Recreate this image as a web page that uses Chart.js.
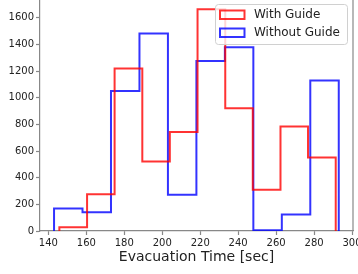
<!DOCTYPE html>
<html>
<head>
<meta charset="utf-8">
<script src="https://cdn.jsdelivr.net/npm/chart.js@4.4.0/dist/chart.umd.min.js"></script>
<style>
  html, body { margin: 0; padding: 0; background: #fff; overflow: hidden; }
  #wrap { position: relative; width: 358px; height: 274px; overflow: hidden; }
  #chart { position: absolute; left: 0; top: -16px; }
</style>
</head>
<body>
<div id="wrap"><canvas id="chart" width="372" height="290"></canvas></div>
<script>
// bin edges + counts
const withGuideEdges = [145.8, 160.4, 174.9, 189.5, 204.0, 218.6, 233.2, 247.7, 262.3, 276.8, 291.4];
const withGuideCounts = [28, 276, 1220, 521, 744, 1665, 922, 310, 784, 551];

const withoutGuideEdges = [143, 158, 173, 188, 203, 218, 233, 248, 263, 278, 293];
const withoutGuideCounts = [168, 140, 1050, 1483, 272, 1276, 1380, 6, 124, 1130];

const xTicks = [140, 160, 180, 200, 220, 240, 260, 280, 300];
const yTicks = [0, 200, 400, 600, 800, 1000, 1200, 1400, 1600];

const seriesLabels = ['With Guide', 'Without Guide'];
const seriesColors = ['rgba(255, 0, 0, 0.8)', 'rgba(0, 0, 255, 0.8)'];

// histogram outline: start at 0, one point per bin, back down to 0
function stepPoints(edges, counts) {
  const pts = [{ x: edges[0], y: 0 }];
  counts.forEach((c, i) => pts.push({ x: edges[i], y: c }));
  pts.push({ x: edges[edges.length - 1], y: 0 });
  return pts;
}

const FONT = "'DejaVu Sans', sans-serif";
const SPINE = '#888';

// matplotlib-like legend box inside the axes + right spine
const extras = {
  id: 'extras',
  beforeDatasetsDraw(chart) {
    const ctx = chart.ctx, a = chart.chartArea;
    ctx.save();
    ctx.strokeStyle = SPINE;
    ctx.lineWidth = 1.2;
    ctx.beginPath();
    ctx.moveTo(a.right, a.top);
    ctx.lineTo(a.right, a.bottom);
    ctx.stroke();
    ctx.restore();
  },
  afterDatasetsDraw(chart) {
    const ctx = chart.ctx, a = chart.chartArea;
    const bx = a.right - 138, by = a.top + 4, bw = 132, bh = 40;
    ctx.save();
    ctx.beginPath();
    ctx.roundRect(bx + 0.5, by + 0.5, bw, bh, 3);
    ctx.fillStyle = 'rgba(255, 255, 255, 0.8)';
    ctx.fill();
    ctx.strokeStyle = '#d0d0d0';
    ctx.lineWidth = 1;
    ctx.stroke();

    chart.data.datasets.forEach((ds, i) => {
      const cy = by + 10.5 + i * 18;
      ctx.strokeStyle = ds.borderColor;
      ctx.lineWidth = 2;
      ctx.strokeRect(bx + 5, cy - 4, 24.5, 8.5);
      ctx.fillStyle = '#222';
      ctx.font = '12px ' + FONT;
      ctx.textBaseline = 'middle';
      ctx.textAlign = 'left';
      ctx.fillText(ds.label, bx + 39, cy + 0.5);
    });
    ctx.restore();
  }
};

new Chart(document.getElementById('chart'), {
  type: 'line',
  data: {
    datasets: [
      {
        label: seriesLabels[0],
        data: stepPoints(withGuideEdges, withGuideCounts),
        borderColor: seriesColors[0],
        borderWidth: 2,
        stepped: 'before',
        pointRadius: 0,
        fill: false
      },
      {
        label: seriesLabels[1],
        data: stepPoints(withoutGuideEdges, withoutGuideCounts),
        borderColor: seriesColors[1],
        borderWidth: 2,
        stepped: 'before',
        pointRadius: 0,
        fill: false
      }
    ]
  },
  options: {
    responsive: false,
    animation: false,
    layout: { padding: { left: 0, top: 16, right: 19, bottom: 0 } },
    plugins: {
      legend: { display: false },
      tooltip: { enabled: false }
    },
    scales: {
      x: {
        type: 'linear',
        min: 135.6,
        max: 300.5,
        afterBuildTicks: (axis) => { axis.ticks = xTicks.map(v => ({ value: v })); },
        afterFit: (axis) => { axis.height = 43; },
        grid: { drawOnChartArea: false, tickLength: 4, color: SPINE, tickWidth: 1.2 },
        border: { color: SPINE, width: 1.2 },
        ticks: { color: '#222', font: { family: FONT, size: 10 }, padding: 2, maxRotation: 0,
                 callback: (v) => String(v) },
        title: {
          display: true,
          text: 'Evacuation Time [sec]',
          color: '#222',
          font: { family: FONT, size: 14 },
          padding: { top: 0, bottom: 8 }
        }
      },
      y: {
        min: 0,
        max: 1734,
        afterBuildTicks: (axis) => { axis.ticks = yTicks.map(v => ({ value: v })); },
        afterFit: (axis) => { axis.width = 40; },
        grid: { drawOnChartArea: false, tickLength: 4, color: SPINE, tickWidth: 1.2 },
        border: { color: SPINE, width: 1.2 },
        ticks: { color: '#222', font: { family: FONT, size: 10 }, padding: 2,
                 callback: (v) => String(v) }
      }
    }
  },
  plugins: [extras]
});
</script>
</body>
</html>
